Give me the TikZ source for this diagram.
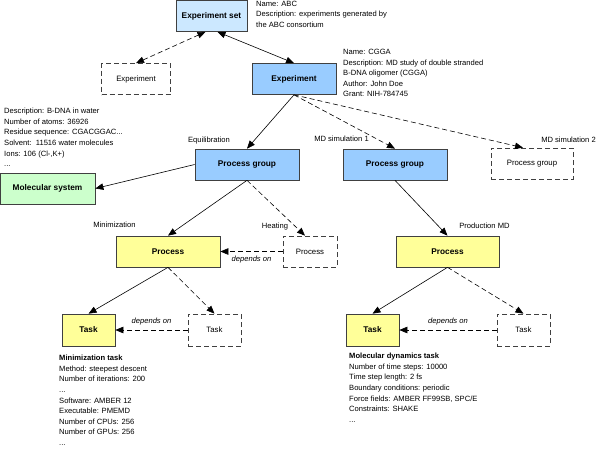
\documentclass[tikz,border=0pt]{standalone}
\usepackage{fontspec}
\setmainfont{Liberation Sans}
\usetikzlibrary{arrows.meta,positioning,calc}
\definecolor{setblue}{HTML}{CCE8FF}
\definecolor{expblue}{HTML}{99CCFF}
\definecolor{molgreen}{HTML}{CCFFCC}
\definecolor{procyellow}{HTML}{FFFF99}
\tikzset{every node/.style={font=\fontsize{7.6}{10.6}\selectfont}, % Default text size
        box/.style={ % Sets the properties for each entity box
            draw=black!75, line width=0.7pt,
            inner sep=0pt,
            minimum height=31pt,
            font=\fontsize{8.3}{10.6}\selectfont\bfseries},
        ghost/.style={ % Entity boxes that are only hinted at
            box, dash pattern=on 5pt off 3pt,
            font=\fontsize{7.8}{10.6}\selectfont},
        info/.style={ % Blocks of attributes
            align=left, inner sep=0pt, anchor=north west},
        tag/.style={inner sep=0pt}, % Names above the boxes
        link/.style={ % Sets the properties for each relation
            draw, line width=0.6pt,
            -{Triangle[length=8pt,width=6.5pt]}},
        both/.style={link, {Triangle[length=8pt,width=6.5pt]}-{Triangle[length=8pt,width=6.5pt]}},
        maybe/.style={dash pattern=on 5pt off 3pt}
        }

\begin{document}
\begin{tikzpicture}[x=1pt,y=-1pt]
    \useasboundingbox (0,0) rectangle (600,448);

    % boxes
    \node[box, fill=setblue, minimum width=71pt] (set) at (211.5,16) {Experiment set};
    \node[ghost, minimum width=69pt] (expd) at (136,79) {Experiment};
    \node[box, fill=expblue, minimum width=84pt] (exp) at (294,79) {Experiment};
    \node[box, fill=molgreen, minimum width=95pt] (mol) at (47.5,188.5) {Molecular system};
    \node[box, fill=expblue, minimum width=104pt] (pga) at (247,164.5) {Process group};
    \node[box, fill=expblue, minimum width=104pt] (pgb) at (395,164.5) {Process group};
    \node[ghost, minimum width=82pt] (pgd) at (532,163.5) {Process group};
    \node[box, fill=procyellow, minimum width=104pt] (pra) at (168,251.5) {Process};
    \node[ghost, minimum width=54pt] (prd) at (310,251.5) {Process};
    \node[box, fill=procyellow, minimum width=103pt] (prb) at (447.5,251.5) {Process};
    \node[box, fill=procyellow, minimum width=53pt, minimum height=32pt] (ta) at (88.5,330) {Task};
    \node[ghost, minimum width=53pt, minimum height=32pt] (tad) at (214.5,330) {Task};
    \node[box, fill=procyellow, minimum width=53pt, minimum height=32pt] (tb) at (372.5,330) {Task};
    \node[ghost, minimum width=53pt, minimum height=32pt] (tbd) at (523.5,330) {Task};

    % names
    \node[tag] (equil) at (209,141) {Equilibration};
    \node[tag] (mdone) at (341.5,139) {MD simulation 1};
    \node[tag] (mdtwo) at (568.5,140) {MD simulation 2};
    \node[tag] (mini) at (114.5,225) {Minimization};
    \node[tag] (heat) at (275,227) {Heating};
    \node[tag] (prod) at (484.5,226) {Production MD};

    % attributes
    \node[info] (setinfo) at (256,0.5) {Name: ABC\\Description: experiments generated by\\the ABC consortium};
    \node[info] (expinfo) at (343,49) {Name: CGGA\\Description: MD study of double stranded\\B-DNA oligomer (CGGA)\\Author: John Doe\\Grant: NIH-784745};
    \node[info] (molinfo) at (4,108) {Description: B-DNA in water\\Number of atoms: 36926\\Residue sequence: CGACGGAC...\\Solvent:~~11516 water molecules\\Ions: 106 (Cl-,K+)\\...};
    \node[info] (tainfo) at (59,355) {\textbf{Minimization task}\\Method: steepest descent\\Number of iterations: 200\\...\\Software: AMBER 12\\Executable: PMEMD\\Number of CPUs: 256\\Number of GPUs: 256\\...};
    \node[info] (tbinfo) at (349,353) {\textbf{Molecular dynamics task}\\Number of time steps: 10000\\Time step length: 2 fs\\Boundary conditions: periodic\\Force fields: AMBER FF99SB, SPC/E\\Constraints: SHAKE\\...};

    % relations
    \draw[both, maybe] (expd.north) -- ([xshift=-6pt]set.south);
    \draw[both] (exp.north) -- ([xshift=6pt]set.south);
    \draw[link] (exp.south) -- (pga.north);
    \draw[link, maybe] (exp.south) -- (pgb.north);
    \draw[link, maybe] (exp.south) -- ([xshift=-9pt]pgd.north);
    \draw[link] (pga.west) -- (mol.east);
    \draw[link] (pga.south) -- (pra.north);
    \draw[link, maybe] (pga.south) -- ([xshift=-5pt]prd.north);
    \draw[link, maybe] (prd.west) -- node[below=1pt, font=\fontsize{7.6}{10.6}\selectfont\itshape] {depends on} (pra.east);
    \draw[link] (pgb.south) -- (prb.north);
    \draw[link] (pra.south) -- (ta.north);
    \draw[link, maybe] (pra.south) -- (tad.north);
    \draw[link, maybe] (tad.west) -- node[above=1pt, font=\fontsize{7.6}{10.6}\selectfont\itshape] {depends on} (ta.east);
    \draw[link] (prb.south) -- (tb.north);
    \draw[link, maybe] (prb.south) -- (tbd.north);
    \draw[link, maybe] (tbd.west) -- node[above=1pt, font=\fontsize{7.6}{10.6}\selectfont\itshape] {depends on} (tb.east);
\end{tikzpicture}
\end{document}
